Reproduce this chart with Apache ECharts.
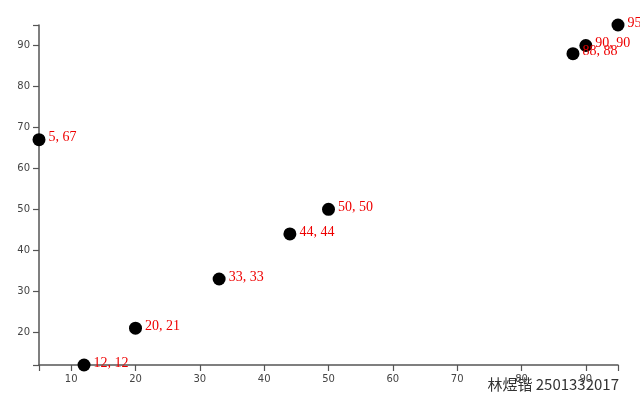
<!DOCTYPE html>
<html>
<head>
<meta charset="utf-8">
<script src="https://cdn.jsdelivr.net/npm/echarts@6/dist/echarts.min.js"></script>
<style>html,body{margin:0;padding:0;background:#fff}#c{width:640px;height:400px}</style>
</head>
<body>
<div id="c"></div>
<script>
const xs = [5, 12, 20, 33, 44, 50, 88, 90, 95];
const ys = [67, 12, 21, 33, 44, 50, 88, 90, 95];
const xTicks = [10, 20, 30, 40, 50, 60, 70, 80, 90];
const yTicks = [20, 30, 40, 50, 60, 70, 80, 90];
const xMin = 5, xMax = 95, yMin = 12, yMax = 95;
const caption = '林煜锴 2501332017';

const chart = echarts.init(document.getElementById('c'), null, {renderer: 'canvas'});
const axisCommon = {
  axisLine: {show: true, onZero: false, lineStyle: {color: '#555', width: 1.5}},
  axisTick: {show: true, length: 6, lineStyle: {color: '#555', width: 1.2}},
  axisLabel: {margin: 9, fontSize: 10, color: '#444', fontFamily: 'DejaVu Sans'},
  splitLine: {show: false}
};
chart.setOption({
  animation: false,
  grid: {left: 39, right: 22, top: 25, bottom: 35, containLabel: false},
  xAxis: Object.assign({}, axisCommon, {
    type: 'value', min: xMin, max: xMax,
    axisTick: Object.assign({}, axisCommon.axisTick, {customValues: [xMin].concat(xTicks, [xMax])}),
    axisLabel: Object.assign({}, axisCommon.axisLabel, {customValues: xTicks})
  }),
  yAxis: Object.assign({}, axisCommon, {
    type: 'value', min: yMin, max: yMax,
    axisTick: Object.assign({}, axisCommon.axisTick, {customValues: [yMin].concat(yTicks, [yMax])}),
    axisLabel: Object.assign({}, axisCommon.axisLabel, {customValues: yTicks})
  }),
  graphic: [{
    type: 'text', right: 21, bottom: 8,
    style: {text: caption, fontSize: 15, fill: '#333', fontFamily: 'Noto Sans CJK SC'}
  }],
  series: [{
    type: 'scatter',
    clip: false,
    symbol: 'circle',
    symbolSize: 13,
    itemStyle: {color: '#000', opacity: 1},
    data: xs.map((x, i) => [x, ys[i]]),
    label: {
      show: true, position: 'right', distance: 2, offset: [1, -2],
      color: '#e00', fontSize: 14, fontFamily: 'Liberation Serif',
      formatter: p => p.value[0] + ', ' + p.value[1]
    }
  }]
});
</script>
</body>
</html>
